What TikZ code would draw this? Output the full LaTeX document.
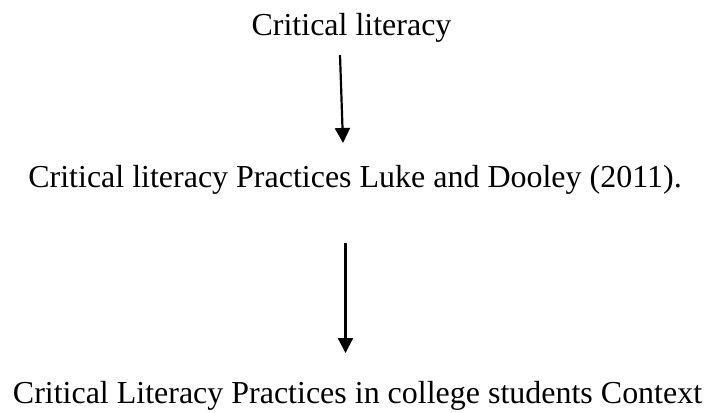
\documentclass[tikz,border=0pt]{standalone}
\usepackage{fontspec}
\setmainfont{Liberation Serif}
\usetikzlibrary{arrows.meta}
\begin{document}
\begin{tikzpicture}[x=1bp,y=-1bp,
  lbl/.style={anchor=base,inner sep=0pt,font=\fontsize{32.1}{37}\selectfont},
  conn/.style={line width=2.2bp,-{Triangle[length=15bp,width=15bp]}}]
\useasboundingbox (0,0) rectangle (707,412);
\node[lbl] (t1) at (351.5,35) {Critical literacy};
\node[lbl] (t2) at (355,187) {Critical literacy Practices Luke and Dooley (2011).};
\node[lbl] (t3) at (357.5,403) {Critical Literacy Practices in college students Context};
\coordinate (a1s) at (340,55);
\coordinate (a1e) at (343,143);
\coordinate (a2s) at (345.5,243);
\coordinate (a2e) at (345.5,353);
\draw[conn] (a1s) -- (a1e);
\draw[conn] (a2s) -- (a2e);
\end{tikzpicture}
\end{document}
